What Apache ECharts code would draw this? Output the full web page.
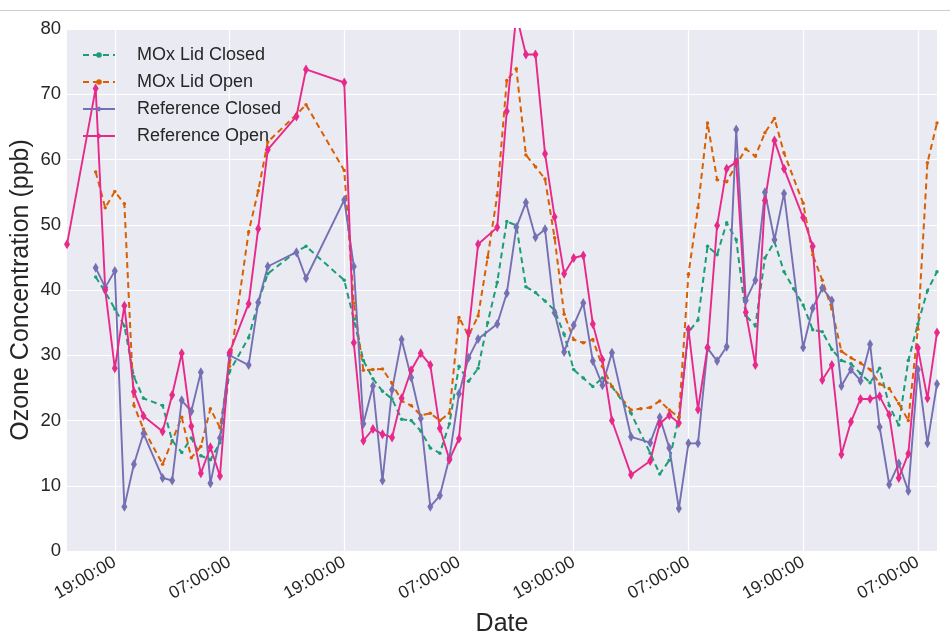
<!DOCTYPE html>
<html>
<head>
<meta charset="utf-8">
<title>Ozone Concentration</title>
<script src="https://cdn.jsdelivr.net/npm/echarts@6/dist/echarts.min.js"></script>
<style>
  html, body { margin: 0; padding: 0; background: #ffffff; }
  #chart { width: 950px; height: 635px; }
</style>
</head>
<body>
<div id="chart"></div>
<script>
// Hourly timeline: index 0 = 14:00 on the first day, 92 hourly slots.
const startHour = 14;
const hourCount = 92;
const shownTicks = ['19:00:00', '07:00:00'];

// Each series: [hour index, ozone ppb]
const moxLidClosed = [
  [3,42.0],[4,39.7],[5,37.1],[6,34.5],[7,26.7],[8,23.4],[10,22.3],[11,16.9],[12,15.1],[13,17.3],
  [14,14.6],[15,14.0],[16,16.6],[17,27.5],[19,32.7],[20,38.1],[21,42.5],[24,45.9],[25,46.7],[29,41.5],
  [30,35.5],[31,29.2],[32,26.4],[33,24.5],[34,23.3],[35,20.2],[36,20.0],[37,18.4],[38,15.8],[39,15.0],
  [40,19.5],[41,28.3],[42,26.0],[43,28.0],[44,35.0],[45,41.2],[46,50.5],[47,49.9],[48,40.5],[49,39.6],
  [50,38.3],[51,36.9],[52,33.2],[53,27.8],[54,26.5],[55,25.2],[56,26.5],[57,25.2],[59,21.1],[61,15.0],
  [62,11.8],[63,13.9],[64,20.5],[65,33.5],[66,35.4],[67,46.7],[68,45.4],[69,50.3],[70,47.7],[71,36.1],
  [72,34.5],[73,44.9],[74,47.4],[75,42.8],[76,40.2],[77,37.7],[78,33.9],[79,33.6],[80,30.9],[81,29.2],
  [82,28.7],[83,27.2],[84,25.8],[85,28.0],[86,22.3],[87,19.3],[88,29.2],[89,34.8],[90,39.9],[91,42.8]
];
const moxLidOpen = [
  [3,58.1],[4,52.6],[5,55.1],[6,53.2],[7,22.3],[8,18.7],[10,13.3],[12,20.5],[13,14.3],[14,16.0],
  [15,21.8],[16,18.9],[17,28.3],[19,48.9],[20,55.2],[21,62.7],[24,66.9],[25,68.4],[29,58.3],[30,38.0],
  [31,27.7],[32,27.8],[33,27.9],[34,25.7],[35,23.0],[36,22.3],[37,20.8],[38,21.1],[39,20.0],[40,21.1],
  [41,35.8],[42,33.0],[43,36.0],[44,45.0],[45,54.5],[46,72.1],[47,73.9],[48,60.7],[49,58.9],[50,57.0],
  [51,48.0],[52,36.3],[53,32.4],[54,31.9],[55,32.4],[56,28.3],[57,25.2],[59,21.6],[60,21.8],[61,22.0],
  [62,23.0],[63,21.6],[64,20.5],[65,42.4],[66,52.6],[67,65.6],[68,56.9],[69,56.6],[70,59.2],[71,61.6],
  [72,60.5],[73,64.1],[74,66.3],[75,61.0],[77,53.3],[78,45.4],[79,41.5],[80,37.1],[81,30.6],[82,29.6],
  [83,28.8],[84,27.8],[85,25.6],[86,24.9],[87,22.6],[88,20.0],[89,34.0],[90,59.5],[91,65.6]
];
const referenceClosed = [
  [3,43.4],[4,40.4],[5,42.9],[6,6.8],[7,13.3],[8,18.0],[10,11.2],[11,10.8],[12,23.1],[13,21.4],
  [14,27.4],[15,10.4],[16,17.3],[17,30.0],[19,28.5],[20,38.1],[21,43.6],[24,45.8],[25,41.8],[29,53.8],
  [30,43.6],[31,19.5],[32,25.3],[33,10.8],[34,24.7],[35,32.4],[36,26.6],[37,20.3],[38,6.8],[39,8.5],
  [40,14.3],[41,24.1],[42,29.6],[43,32.5],[45,34.8],[46,39.5],[47,49.6],[48,53.4],[49,48.1],[50,49.3],
  [51,36.5],[52,30.5],[53,34.6],[54,38.0],[55,29.1],[56,25.4],[57,30.4],[59,17.5],[61,16.6],[62,20.5],
  [63,15.8],[64,6.5],[65,16.5],[66,16.5],[67,31.1],[68,29.1],[69,31.3],[70,64.6],[71,38.4],[72,41.5],
  [73,55.0],[74,47.7],[75,54.8],[77,31.2],[78,37.2],[79,40.3],[80,38.4],[81,25.3],[82,27.8],[83,26.1],
  [84,31.7],[85,19.0],[86,10.2],[87,13.4],[88,9.2],[89,27.8],[90,16.5],[91,25.6]
];
const referenceOpen = [
  [0,47.0],[3,70.9],[4,40.0],[5,28.0],[6,37.6],[7,24.4],[8,20.7],[10,18.3],[11,23.9],[12,30.3],
  [13,19.1],[14,11.9],[15,15.9],[16,11.5],[17,30.4],[19,37.9],[20,49.4],[21,61.5],[24,66.6],[25,73.8],
  [29,71.8],[30,31.9],[31,16.9],[32,18.7],[33,17.9],[34,17.4],[35,23.4],[36,27.7],[37,30.3],[38,28.5],
  [39,18.8],[40,14.0],[41,17.2],[42,33.5],[43,47.0],[45,49.6],[46,67.4],[47,82.2],[48,76.1],[49,76.1],
  [50,60.9],[51,51.2],[52,42.5],[53,44.9],[54,45.3],[55,34.8],[56,29.3],[57,20.0],[59,11.7],[61,13.8],
  [62,19.5],[63,20.8],[64,19.6],[65,34.0],[66,21.7],[67,31.2],[68,49.9],[69,58.6],[70,59.6],[71,36.6],
  [72,28.5],[73,53.7],[74,62.9],[75,58.6],[77,51.1],[78,46.7],[79,26.2],[80,28.5],[81,14.8],[82,19.8],
  [83,23.3],[84,23.3],[85,23.7],[86,20.9],[87,11.2],[88,14.9],[89,31.1],[90,23.4],[91,33.5]
];

const seriesNames = ['MOx Lid Closed', 'MOx Lid Open', 'Reference Closed', 'Reference Open'];
const seriesColors = ['#1b9e77', '#d95f02', '#7570b3', '#e7298a'];
const yAxisTitle = 'Ozone Concentration (ppb)';

// Hour-of-day labels for every slot on the category axis
const timeLabels = [];
for (let i = 0; i < hourCount; i++) {
  const hh = String((startHour + i) % 24).padStart(2, '0');
  timeLabels.push(hh + ':00:00');
}
const isMajor = (idx, val) => shownTicks.indexOf(val) >= 0;

const textColor = '#262626';
const font = 'Liberation Sans, Arial, sans-serif';

function moxSeries(name, data, color) {
  return {
    name, type: 'line', data, color,
    symbol: 'circle', symbolSize: 3.5, showSymbol: true, showAllSymbol: true,
    lineStyle: { width: 2, type: [6, 4], color },
    itemStyle: { color },
    animation: false, clip: true
  };
}
function refSeries(name, data, color) {
  return {
    name, type: 'line', data, color,
    symbol: 'diamond', symbolSize: [6, 10], showSymbol: true, showAllSymbol: true,
    lineStyle: { width: 1.9, color },
    itemStyle: { color },
    animation: false, clip: true
  };
}

const chart = echarts.init(document.getElementById('chart'), null, { renderer: 'canvas' });
chart.setOption({
  backgroundColor: '#ffffff',
  animation: false,
  textStyle: { fontFamily: font, color: textColor },
  graphic: [{
    type: 'line', silent: true,
    shape: { x1: 0, y1: 10.5, x2: 950, y2: 10.5 },
    style: { stroke: '#cccccc', lineWidth: 1 }
  }, {
    // vertical y-axis title, centred on the plot height
    type: 'text', silent: true,
    x: 21.5, y: 290, rotation: Math.PI / 2,
    style: {
      text: yAxisTitle, fill: textColor,
      font: '25px "Liberation Sans", Arial, sans-serif',
      align: 'center', verticalAlign: 'middle'
    }
  }],
  grid: {
    left: 67, right: 13, top: 29, bottom: 84,
    outerBoundsMode: 'none',
    show: true, backgroundColor: '#eaeaf2', borderWidth: 0
  },
  legend: {
    orient: 'vertical', left: 82, top: 45, padding: 0,
    itemWidth: 32, itemHeight: 7, itemGap: 7,
    data: seriesNames,
    textStyle: { fontFamily: font, fontSize: 18, color: textColor, lineHeight: 20, padding: [0, 0, 0, 17] }
  },
  xAxis: {
    type: 'category', data: timeLabels, boundaryGap: false,
    name: 'Date', nameLocation: 'middle', nameGap: 61,
    nameTextStyle: { fontFamily: font, fontSize: 25, color: textColor },
    axisLine: { show: false }, axisTick: { show: false },
    axisLabel: { interval: isMajor, rotate: 30, margin: 10, fontSize: 17.5, color: textColor, fontFamily: font },
    splitLine: { show: true, interval: isMajor, lineStyle: { color: '#ffffff', width: 1.2 } }
  },
  yAxis: {
    type: 'value', min: 0, max: 80, interval: 10,
    axisLine: { show: false }, axisTick: { show: false },
    axisLabel: { margin: 6, fontSize: 18.5, color: textColor, fontFamily: font },
    splitLine: { show: true, lineStyle: { color: '#ffffff', width: 1.2 } }
  },
  series: [
    moxSeries(seriesNames[0], moxLidClosed, seriesColors[0]),
    moxSeries(seriesNames[1], moxLidOpen, seriesColors[1]),
    refSeries(seriesNames[2], referenceClosed, seriesColors[2]),
    refSeries(seriesNames[3], referenceOpen, seriesColors[3])
  ]
});
</script>
</body>
</html>
